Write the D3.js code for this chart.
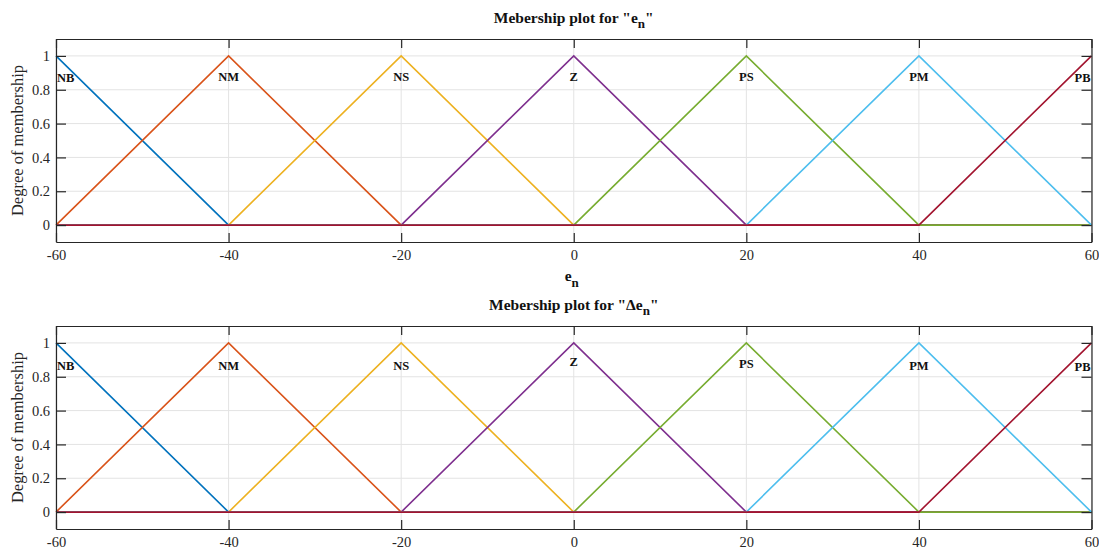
<!DOCTYPE html>
<html><head><meta charset="utf-8">
<script src="https://cdn.jsdelivr.net/npm/d3@7"></script>
<style>
body{margin:0;background:#fff;}
svg{display:block;font-family:"Liberation Serif","DejaVu Serif",serif;}
</style></head>
<body><svg id="c" width="1099" height="552"></svg>
<script>
// ---- data ----
const xTicks = [-60, -40, -20, 0, 20, 40, 60];
const yTicks = [0, 0.2, 0.4, 0.6, 0.8, 1];
const xTickLabels = ["-60", "-40", "-20", "0", "20", "40", "60"];
const yTickLabels = ["0", "0.2", "0.4", "0.6", "0.8", "1"];
const mfNames = ["NB", "NM", "NS", "Z", "PS", "PM", "PB"];
const mfA = [-80, -60, -40, -20, 0, 20, 40];
const mfB = [-60, -40, -20, 0, 20, 40, 60];
const mfC = [-40, -20, 0, 20, 40, 60, 80];
const mfColors = ["#0072BD", "#D95319", "#EDB120", "#7E2F8E", "#77AC30", "#4DBEEE", "#A2142F"];
const labelYTop = [0.875, 0.88, 0.88, 0.88, 0.88, 0.88, 0.875];
const labelYBottom = [0.864, 0.864, 0.866, 0.893, 0.879, 0.864, 0.862];
const xDomain = [-60, 60];
const yDomain = [-0.1, 1.1];

const svg = d3.select("#c");
svg.append("rect").attr("width", 1099).attr("height", 552).attr("fill", "#fff");

function trimf(x, a, b, c) {
  if (x <= a || x >= c) return 0;
  if (x <= b) return (x - a) / (b - a);
  return (c - x) / (c - b);
}
// breakpoints of the piecewise-linear MFs inside the plotted range
const xs = Array.from(new Set([...xDomain, ...mfA, ...mfB, ...mfC]))
  .filter(v => v >= xDomain[0] && v <= xDomain[1]).sort((a, b) => a - b);

function panel(top, bottom, titleMain, titlePre, labelY, showXLabel) {
  const left = 56, right = 1091.5;
  const x = d3.scaleLinear().domain(xDomain).range([left, right]);
  const y = d3.scaleLinear().domain(yDomain).range([bottom, top]);
  const g = svg.append("g");

  // grid
  g.selectAll(".gx").data(xTicks).enter().append("line")
    .attr("x1", d => x(d)).attr("x2", d => x(d)).attr("y1", top).attr("y2", bottom)
    .attr("stroke", "#e3e3e3").attr("stroke-width", 1);
  g.selectAll(".gy").data(yTicks).enter().append("line")
    .attr("y1", d => y(d)).attr("y2", d => y(d)).attr("x1", left).attr("x2", right)
    .attr("stroke", "#e3e3e3").attr("stroke-width", 1);

  // lines
  const line = d3.line().x(d => x(d[0])).y(d => y(d[1]));
  mfNames.forEach((n, i) => {
    const pts = xs.map(v => [v, trimf(v, mfA[i], mfB[i], mfC[i])]);
    g.append("path").attr("d", line(pts)).attr("fill", "none")
      .attr("stroke", mfColors[i]).attr("stroke-width", 1.6);
  });

  // labels
  mfNames.forEach((n, i) => {
    const px = mfB[i];
    let anchor = "middle", dx = 0;
    if (px === xDomain[0]) { anchor = "start"; dx = 1; }
    if (px === xDomain[1]) { anchor = "end"; dx = -1; }
    g.append("text").attr("x", x(px) + dx).attr("y", y(labelY[i]) + 4.5)
      .attr("text-anchor", anchor).attr("font-size", 12.5).attr("font-weight", "bold")
      .attr("fill", "#111").text(n);
  });

  // axes (box with ticks inward on all sides)
  const xb = d3.axisBottom(x).tickValues(xTicks).tickFormat((d, i) => xTickLabels[i]).tickSizeInner(-9).tickSizeOuter(0).tickPadding(8);
  const xt = d3.axisTop(x).tickValues(xTicks).tickFormat("").tickSizeInner(-9).tickSizeOuter(0);
  const yl = d3.axisLeft(y).tickValues(yTicks).tickFormat((d, i) => yTickLabels[i]).tickSizeInner(-10).tickSizeOuter(0).tickPadding(6);
  const yr = d3.axisRight(y).tickValues(yTicks).tickFormat("").tickSizeInner(-10).tickSizeOuter(0);
  [[xb, `translate(0,${bottom})`], [xt, `translate(0,${top})`], [yl, `translate(${left},0)`], [yr, `translate(${right},0)`]]
    .forEach(([a, t]) => {
      const s = g.append("g").attr("transform", t).call(a);
      s.selectAll("path").attr("stroke", "#262626").attr("stroke-width", 1.2);
      s.selectAll("line").attr("stroke", "#262626").attr("stroke-width", 1.2);
      s.selectAll("text").attr("fill", "#262626").attr("font-size", 14.5)
        .attr("font-family", "Liberation Serif, serif");
    });

  // y label
  g.append("text").attr("transform", `translate(23,${(top + bottom) / 2}) rotate(-90)`)
    .attr("text-anchor", "middle").attr("font-size", 16.5).attr("fill", "#262626")
    .text("Degree of membership");

  // title
  const tt = g.append("text").attr("x", (left + right) / 2).attr("y", top - 16)
    .attr("text-anchor", "middle").attr("font-size", 15.5).attr("font-weight", "bold").attr("fill", "#111");
  tt.append("tspan").text(titleMain + "\"" + titlePre + "e");
  tt.append("tspan").attr("dy", 5).attr("font-size", 13).text("n");
  tt.append("tspan").attr("dy", -5).text("\"");

  if (showXLabel) {
    const xl = g.append("text").attr("x", (left + right) / 2 - 2).attr("y", bottom + 39)
      .attr("text-anchor", "middle").attr("font-size", 15.5).attr("font-weight", "bold").attr("fill", "#111");
    xl.append("tspan").text("e");
    xl.append("tspan").attr("dy", 6).attr("font-size", 13).text("n");
  }
}

panel(39, 242, "Mebership plot for ", "", labelYTop, true);
panel(326, 529, "Mebership plot for ", "\u0394", labelYBottom, false);
</script></body></html>
